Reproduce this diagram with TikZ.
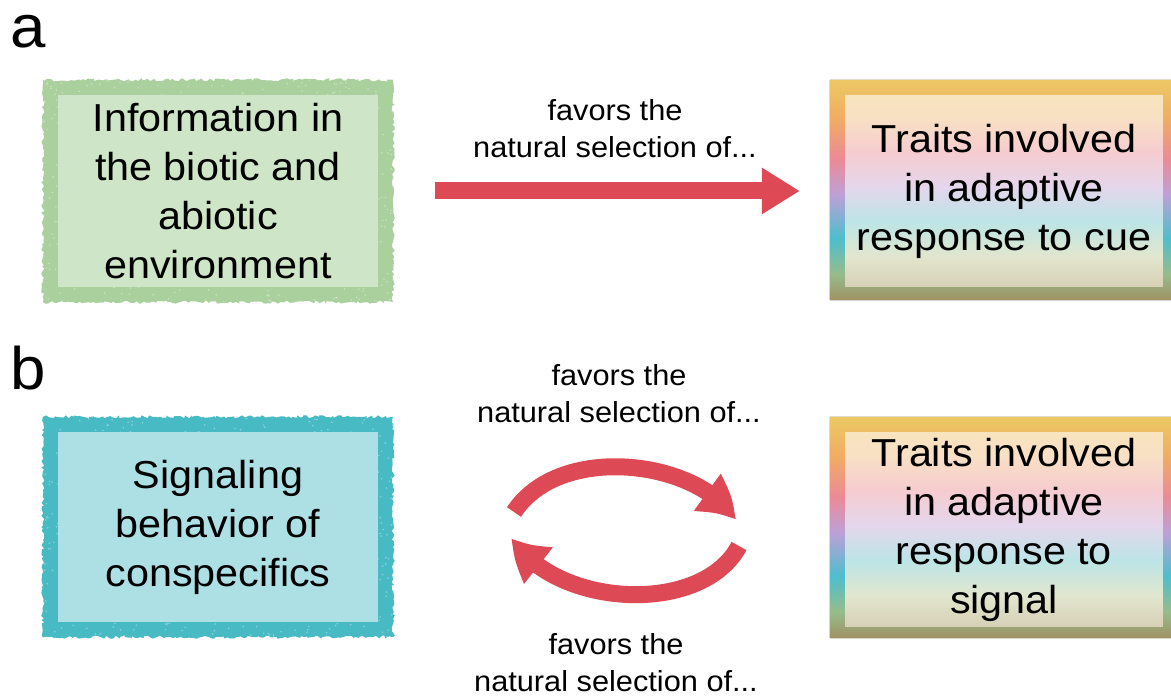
\documentclass[tikz,border=0pt]{standalone}
\usepackage{fontspec}
\setmainfont[FakeStretch=1.06]{Liberation Sans}
\usetikzlibrary{arrows.meta,bending,calc,decorations.pathmorphing}

% colours
\definecolor{greenedge}{RGB}{170,208,158}
\definecolor{greenfill}{RGB}{206,230,199}
\definecolor{tealedge}{RGB}{72,186,196}
\definecolor{tealfill}{RGB}{172,224,229}
\definecolor{arrowred}{RGB}{221,73,84}

% rainbow frame and rainbow fill (bottom to top)
\pgfdeclareverticalshading{rainbowedge}{100bp}{
  color(0bp)=(rgb,255:red,160;green,145;blue,100);
  color(25bp)=(rgb,255:red,160;green,145;blue,100);
  color(31bp)=(rgb,255:red,150;green,188;blue,140);
  color(39bp)=(rgb,255:red,78;green,190;blue,205);
  color(49bp)=(rgb,255:red,190;green,160;blue,215);
  color(57bp)=(rgb,255:red,236;green,138;blue,150);
  color(66bp)=(rgb,255:red,240;green,172;blue,100);
  color(75bp)=(rgb,255:red,236;green,200;blue,100);
  color(100bp)=(rgb,255:red,236;green,200;blue,100)}
\pgfdeclareverticalshading{rainbowfill}{100bp}{
  color(0bp)=(rgb,255:red,214;green,208;blue,182);
  color(25bp)=(rgb,255:red,214;green,208;blue,182);
  color(33bp)=(rgb,255:red,226;green,230;blue,206);
  color(42bp)=(rgb,255:red,188;green,229;blue,230);
  color(51bp)=(rgb,255:red,228;green,214;blue,236);
  color(60bp)=(rgb,255:red,246;green,204;blue,208);
  color(69bp)=(rgb,255:red,248;green,224;blue,196);
  color(75bp)=(rgb,255:red,248;green,228;blue,190);
  color(100bp)=(rgb,255:red,248;green,228;blue,190)}

\tikzset{
  boxtext/.style={align=center, inner sep=0pt, font=\fontsize{39}{49}\selectfont},
  plainbox/.style={boxtext, minimum width=320pt, minimum height=192pt},
  rainbowbox/.style={boxtext, minimum width=318pt, minimum height=192pt, shading=rainbowfill},
  smalltext/.style={align=center, inner sep=0pt, anchor=south, font=\fontsize{29}{37}\selectfont},
  paneltag/.style={anchor=base west, inner sep=0pt, font=\fontsize{60}{60}\selectfont},
  chalk/.style={decoration={random steps, segment length=2.5pt, amplitude=1.6pt}},
  redarrow/.style={draw=arrowred, line width=17pt,
    -{Triangle[length=38pt, width=44pt, bend]}},
}

% textured frame of width 15pt around a node
\newcommand{\chalkframe}[2]{%
  \fill[#2, even odd rule]
    decorate[chalk]{($(#1.south west)+(-15,-15)$) rectangle ($(#1.north east)+(15,15)$)}
    (#1.south west) rectangle (#1.north east);
  \begin{scope}[even odd rule]
    \clip
      ($(#1.south west)+(-15,-15)$) rectangle ($(#1.north east)+(15,15)$)
      (#1.south west) rectangle (#1.north east);
    \foreach \k in {1,...,650}
      \fill[white, opacity=0.35]
        ($(#1.center)+({176*rand},{112*rand})$) circle (0.9pt);
  \end{scope}}

\begin{document}
\begin{tikzpicture}[x=1pt, y=1pt]
  \pgfmathsetseed{42}
  \useasboundingbox (0,0) rectangle (1171,696);

  % panel tags
  \node[paneltag] (taga) at (10,648) {a};
  \node[paneltag] (tagb) at (10,306) {b};

  % panel a
  \node[plainbox, fill=greenfill] (env) at (218,505)
    {Information in\\the biotic and\\abiotic\\environment};
  \node[rainbowbox] (cue) at (1004,505)
    {Traits involved\\in adaptive\\response to cue};
  \chalkframe{env}{greenedge}
  \fill[even odd rule, shading=rainbowedge]
    ($(cue.south west)+(-15,-13)$) rectangle ($(cue.north east)+(15,15)$)
    (cue.south west) rectangle (cue.north east);

  \node[smalltext] (lbla) at (615,538) {favors the\\natural selection of...};
  \draw[redarrow, shorten <=57pt, shorten >=45pt]
    (env.east) -- (env.east -| cue.west);

  % panel b
  \node[plainbox, fill=tealfill, minimum height=190pt] (sig) at (218,169)
    {Signaling\\behavior of\\conspecifics};
  \node[rainbowbox, minimum height=195pt] (sresp) at (1004,166.5)
    {Traits involved\\in adaptive\\response to\\signal};
  \chalkframe{sig}{tealedge}
  \fill[even odd rule, shading=rainbowedge]
    ($(sresp.south west)+(-15,-11)$) rectangle ($(sresp.north east)+(15,15)$)
    (sresp.south west) rectangle (sresp.north east);

  \node[smalltext] (lblbtop) at (619,273) {favors the\\natural selection of...};
  \node[smalltext] (lblbbot) at (616,4) {favors the\\natural selection of...};

  % two curved arrows forming a cycle
  \coordinate (c1) at (514,184);
  \coordinate (c2) at (735,176);
  \coordinate (c3) at (739,150);
  \coordinate (c4) at (512,158);
  \draw[redarrow] (c1) .. controls (560,254) and (700,236) .. (c2);
  \draw[redarrow] (c3) .. controls (702,80) and (555,88) .. (c4);
\end{tikzpicture}
\end{document}
